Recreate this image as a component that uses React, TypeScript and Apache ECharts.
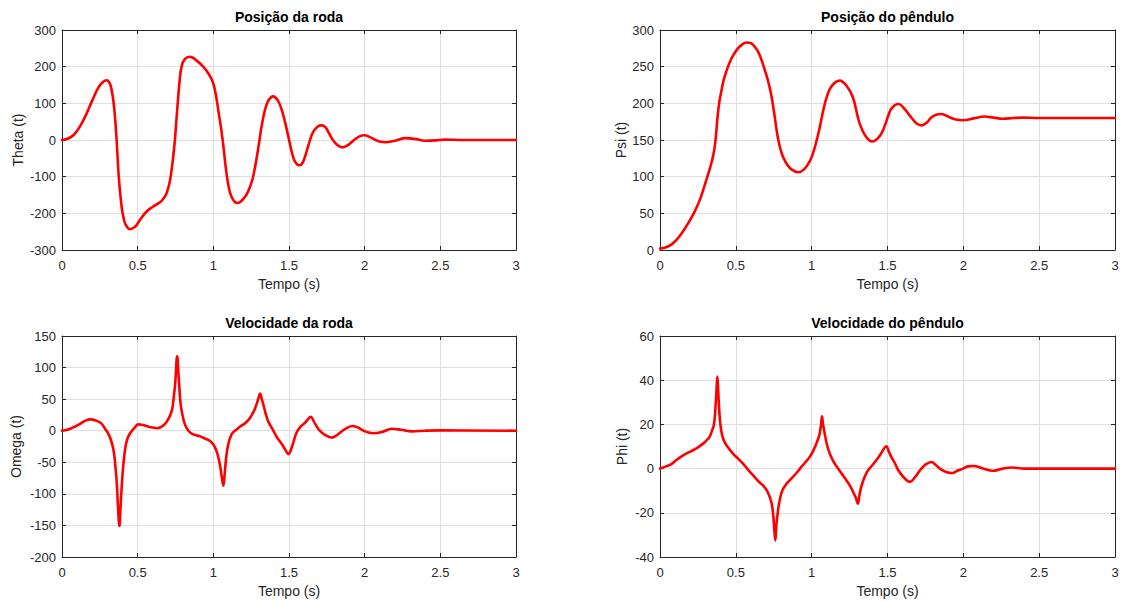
import React, { useEffect, useRef } from "react";
import * as echarts from "echarts";

// ---- Data ----
const titles = ["Posição da roda", "Posição do pêndulo", "Velocidade da roda", "Velocidade do pêndulo"];
const yNames = ["Theta (t)", "Psi (t)", "Omega (t)", "Phi (t)"];
const xName = "Tempo (s)";
const xRange = { min: 0, max: 3, interval: 0.5 };
const yRanges = [
  { min: -300, max: 300, interval: 100 },
  { min: 0, max: 300, interval: 50 },
  { min: -200, max: 150, interval: 50 },
  { min: -40, max: 60, interval: 20 },
];

const thetaT = [0,0.04,0.08,0.12,0.16,0.2,0.24,0.27,0.295,0.315,0.328,0.34,0.35,0.361,0.372,0.38,0.387,0.395,0.405,0.42,0.449,0.47,0.493,0.52,0.559,0.6,0.647,0.67,0.691,0.71,0.724,0.735,0.746,0.757,0.768,0.778,0.79,0.81,0.845,0.88,0.933,0.97,0.999,1.02,1.035,1.05,1.06,1.07,1.08,1.09,1.105,1.12,1.14,1.16,1.18,1.2,1.22,1.24,1.26,1.275,1.29,1.305,1.32,1.34,1.36,1.38,1.395,1.41,1.43,1.45,1.47,1.49,1.51,1.53,1.55,1.57,1.59,1.61,1.635,1.66,1.69,1.716,1.74,1.765,1.79,1.82,1.854,1.89,1.93,1.965,2.0,2.035,2.072,2.105,2.137,2.2,2.27,2.33,2.4,2.47,2.53,2.65,3];
const theta = [0,4,15,38,70,108,143,158,163,155,136,105,64,0,-82,-125,-155,-185,-209,-230,-243,-240,-232,-215,-195,-182,-170,-160,-145,-118,-82,-45,0,60,118,165,200,220,227,220,200,180,155,115,75,35,5,-30,-68,-100,-135,-155,-168,-172,-168,-160,-148,-130,-105,-75,-40,0,40,80,105,116,119,116,105,85,55,20,-18,-50,-65,-69,-62,-40,-5,22,37,40,35,18,0,-14,-20,-14,0,10,13,8,0,-5,-6,-2,5,3,-2,-1,1,0,0];

const psiT = [0,0.03,0.064,0.1,0.13,0.16,0.196,0.23,0.262,0.285,0.306,0.33,0.35,0.362,0.372,0.38,0.392,0.405,0.42,0.438,0.46,0.481,0.51,0.535,0.57,0.6,0.636,0.657,0.679,0.712,0.734,0.745,0.757,0.767,0.78,0.795,0.811,0.84,0.866,0.91,0.95,0.987,1.009,1.03,1.053,1.075,1.097,1.13,1.185,1.23,1.272,1.3,1.317,1.35,1.383,1.403,1.435,1.463,1.49,1.518,1.545,1.572,1.61,1.648,1.69,1.725,1.76,1.79,1.82,1.856,1.89,1.92,1.96,1.998,2.07,2.14,2.2,2.26,2.33,2.39,2.5,3];
const psi = [2,3,6,12,19,28,40,53,68,82,96,112,128,143,163,183,203,217,232,244,256,265,274,279,283,282,274,266,253,231,211,197,181,166,150,137,127,116,110,106,110,121,132,147,167,189,207,223,231,224,208,185,172,157,149,148,152,160,174,190,197,199,193,183,173,170,174,181,184.5,185.5,183,180,177.5,177,179.5,182,180.5,179,180,180.5,180,180];

const omegaT = [0,0.04,0.081,0.12,0.155,0.19,0.225,0.257,0.285,0.311,0.33,0.344,0.354,0.362,0.37,0.379,0.387,0.396,0.405,0.416,0.43,0.45,0.48,0.505,0.535,0.564,0.6,0.63,0.655,0.673,0.691,0.712,0.727,0.738,0.748,0.761,0.771,0.783,0.796,0.812,0.835,0.86,0.885,0.914,0.94,0.969,0.99,1.01,1.026,1.042,1.054,1.066,1.076,1.086,1.1,1.12,1.138,1.154,1.18,1.21,1.235,1.254,1.272,1.287,1.3,1.309,1.32,1.331,1.347,1.364,1.39,1.419,1.44,1.463,1.48,1.496,1.52,1.548,1.575,1.603,1.625,1.642,1.67,1.7,1.74,1.784,1.81,1.843,1.88,1.92,1.955,1.985,2.02,2.06,2.12,2.18,2.24,2.31,2.4,2.5,3];
const omega = [0,2,6,11,16,18,16,12,3,-7,-20,-36,-60,-83,-120,-151,-120,-83,-55,-31,-14,-4,5,10,9,7,5,4,6,9,14,23,33,52,75,118,85,44,25,10,0,-5,-7,-9,-12,-15,-19,-26,-36,-52,-70,-87,-65,-40,-20,-6,-1,2,7,12,18,25,33,43,53,59,50,41,26,14,3,-10,-17,-25,-32,-37,-25,-4,6,12,18,22,12,1,-7,-11,-8,-2,4,7.4,5,1,-2.5,-4,-1.5,3,1.5,-1,0,0.5,0];

const phiT = [0,0.04,0.075,0.11,0.152,0.185,0.218,0.25,0.284,0.31,0.327,0.342,0.356,0.366,0.372,0.378,0.384,0.39,0.398,0.41,0.426,0.45,0.481,0.515,0.547,0.58,0.613,0.645,0.679,0.705,0.723,0.735,0.745,0.752,0.76,0.768,0.778,0.79,0.807,0.835,0.866,0.9,0.932,0.96,0.987,1.01,1.031,1.045,1.053,1.062,1.068,1.075,1.086,1.1,1.119,1.145,1.174,1.2,1.229,1.255,1.273,1.29,1.305,1.315,1.327,1.345,1.371,1.4,1.426,1.45,1.47,1.492,1.51,1.525,1.55,1.569,1.605,1.648,1.68,1.714,1.75,1.79,1.82,1.856,1.89,1.928,1.96,1.998,2.03,2.068,2.13,2.194,2.26,2.325,2.4,3];
const phi = [0,1,2,4,6,7.2,8.3,9.6,11.3,13,14.4,17,20,28,35,41.6,35,27,20,15,12,9.5,6.8,4.5,2.3,-0.5,-3,-5.5,-7.6,-10,-12.8,-15.5,-20,-26,-32.5,-25,-19,-14,-9.8,-6.8,-4.5,-2,0.8,3,5.3,8,11.3,14,15.9,20,23.7,20,15.9,11,6.8,3,0,-2.5,-5.3,-8,-10.6,-13,-15.9,-12,-8.3,-4.5,-0.8,1.5,3.8,6,8.3,10.1,7.5,5.3,2.3,-0.5,-3.8,-6,-4,-0.8,1.8,3,1.5,-0.5,-1.6,-2,-1,0,1,1.2,0,-1,0,0.5,0,0];

const seriesT = [thetaT, psiT, omegaT, phiT];
const seriesV = [theta, psi, omega, phi];

// ---- Layout ----
const grids = [
  { left: 62, top: 30, width: 454, height: 220 },
  { left: 660, top: 30, width: 455, height: 220 },
  { left: 62, top: 336, width: 454, height: 221 },
  { left: 660, top: 336, width: 455, height: 221 },
];
const yNameGaps = [37, 32, 39, 31];

const AX = "#262626";
const GRIDC = "#dfdfdf";
const FONT = "'Liberation Sans', Arial, Helvetica, sans-serif";

export default function App() {
  const ref = useRef<HTMLDivElement>(null);
  useEffect(() => {
    if (!ref.current) return;
    const chart = echarts.init(ref.current, undefined, { renderer: "svg" });
    const xAxis: any[] = [];
    const yAxis: any[] = [];
    const series: any[] = [];
    const graphic: any[] = [];
    grids.forEach((g, i) => {
      xAxis.push({
        type: "value", gridIndex: i, ...xRange, position: "bottom",
        name: xName, nameLocation: "middle", nameGap: 27,
        nameTextStyle: { fontSize: 14, color: AX, fontFamily: FONT },
        axisLine: { show: true, onZero: false, lineStyle: { color: AX, width: 1 } },
        axisTick: { show: true, inside: true, length: 4, lineStyle: { color: AX } },
        axisLabel: { fontSize: 13, color: AX, fontFamily: FONT, margin: 9 },
        splitLine: { show: true, lineStyle: { color: GRIDC, width: 1 } },
      });
      yAxis.push({
        type: "value", gridIndex: i, ...yRanges[i], position: "left",
        name: yNames[i], nameLocation: "middle", nameGap: yNameGaps[i],
        nameTextStyle: { fontSize: 14, color: AX, fontFamily: FONT },
        axisLine: { show: true, onZero: false, lineStyle: { color: AX, width: 1 } },
        axisTick: { show: true, inside: true, length: 4, lineStyle: { color: AX } },
        axisLabel: { fontSize: 13, color: AX, fontFamily: FONT, margin: 6 },
        splitLine: { show: true, lineStyle: { color: GRIDC, width: 1 } },
      });
      graphic.push({
        type: "text",
        x: g.left + g.width / 2,
        y: g.top - 13,
        style: {
          text: titles[i], fontSize: 14, fontWeight: "bold", fill: "#000",
          fontFamily: FONT, textAlign: "center", textVerticalAlign: "middle",
        },
      });
      series.push({
        type: "line", xAxisIndex: i, yAxisIndex: i,
        data: seriesT[i].map((t, k) => [t, seriesV[i][k]]),
        showSymbol: false, symbol: "none", smooth: 0.4,
        lineStyle: { color: "#ff0000", width: 2.6, join: "round", cap: "round" },
        z: 5,
      });
    });
    // box: top and right axes with inward ticks
    grids.forEach((g, i) => {
      xAxis.push({
        type: "value", gridIndex: i, ...xRange, position: "top",
        axisLine: { show: true, onZero: false, lineStyle: { color: AX, width: 1 } },
        axisTick: { show: true, inside: true, length: 4, lineStyle: { color: AX } },
        axisLabel: { show: false }, splitLine: { show: false },
      });
      yAxis.push({
        type: "value", gridIndex: i, ...yRanges[i], position: "right",
        axisLine: { show: true, onZero: false, lineStyle: { color: AX, width: 1 } },
        axisTick: { show: true, inside: true, length: 4, lineStyle: { color: AX } },
        axisLabel: { show: false }, splitLine: { show: false },
      });
    });
    chart.setOption({
      animation: false,
      backgroundColor: "#ffffff",
      textStyle: { fontFamily: FONT },
      grid: grids.map((g) => ({ ...g, containLabel: false })),
      xAxis, yAxis, series, graphic,
    });
    return () => chart.dispose();
  }, []);
  return (
    <div
      ref={ref}
      style={{ position: "fixed", left: 0, top: 0, width: 1130, height: 602, background: "#fff" }}
    />
  );
}
